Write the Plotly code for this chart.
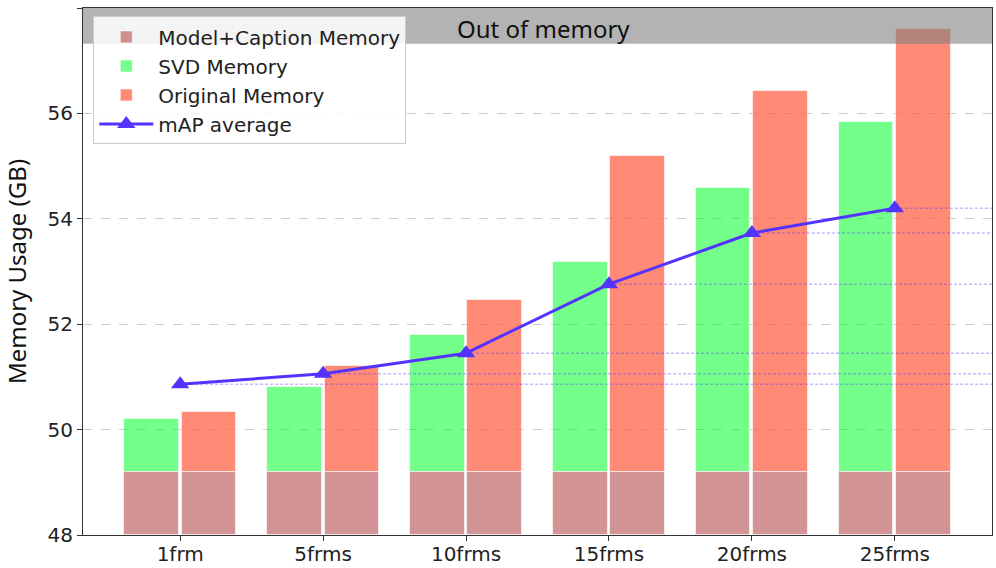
import plotly.graph_objects as go

# ---------------- data ----------------
frames = ["1frm", "5frms", "10frms", "15frms", "20frms", "25frms"]
model_caption_mem = [49.2, 49.2, 49.2, 49.2, 49.2, 49.2]
svd_mem = [50.21, 50.80, 51.80, 53.18, 54.58, 55.84]
original_mem = [50.33, 51.21, 52.45, 55.20, 56.43, 57.60]
map_average = [50.86, 51.06, 51.45, 52.76, 53.73, 54.20]
oom_limit = 57.32

# ---------------- style ----------------
tick_font = dict(family="DejaVu Sans", size=20, color="#222222")
label_font = dict(family="Noto Sans", size=24, color="#111111")
green = "rgba(0,255,40,0.55)"
orange = "rgba(255,99,71,0.75)"
brown = "rgba(165,42,42,0.5)"
blue = "#5533ff"
edge = dict(color="rgba(255,255,255,0.6)", width=1)

bar_w = 0.38
off = 0.2
x_min, x_max = -0.68, 5.68
idx = list(range(len(frames)))

fig = go.Figure()

# SVD / original bars start on top of the model+caption part
fig.add_trace(go.Bar(
    x=[i - off for i in idx],
    y=[s - m for s, m in zip(svd_mem, model_caption_mem)],
    base=model_caption_mem,
    width=bar_w,
    marker=dict(color=green, line=edge),
    name="SVD Memory",
    legendrank=2,
))
fig.add_trace(go.Bar(
    x=[i + off for i in idx],
    y=[o - m for o, m in zip(original_mem, model_caption_mem)],
    base=model_caption_mem,
    width=bar_w,
    marker=dict(color=orange, line=edge),
    name="Original Memory",
    legendrank=3,
))

# model + caption part under both bars
for k, sign in enumerate([-1, 1]):
    fig.add_trace(go.Bar(
        x=[i + sign * off for i in idx],
        y=[m - 48 for m in model_caption_mem],
        base=[48] * len(idx),
        width=bar_w,
        marker=dict(color=brown, line=edge),
        name="Model+Caption Memory",
        legendgroup="mc",
        showlegend=(k == 0),
        legendrank=1,
    ))

# dotted guides from every mAP point to the right edge
for i, v in zip(idx, map_average):
    fig.add_trace(go.Scatter(
        x=[i, x_max], y=[v, v],
        mode="lines",
        line=dict(color="rgba(85,51,255,0.35)", width=1.5, dash="3px,2px"),
        showlegend=False, hoverinfo="skip",
    ))

fig.add_trace(go.Scatter(
    x=idx, y=map_average,
    mode="lines+markers",
    line=dict(color=blue, width=3),
    marker=dict(symbol="triangle-up", size=16, color=blue),
    name="mAP average",
    legendrank=4,
))

# out-of-memory band
fig.add_shape(
    type="rect", xref="paper", yref="y",
    x0=0, x1=1, y0=oom_limit, y1=58,
    fillcolor="rgba(128,128,128,0.6)", line=dict(width=0),
    layer="above",
)
fig.add_annotation(
    x=2.54, y=(oom_limit + 58) / 2, xref="x", yref="y",
    text="Out of memory", showarrow=False,
    font=label_font, yanchor="middle", yshift=-3,
)

fig.update_layout(
    width=996, height=568,
    margin=dict(l=83, r=4, t=8, b=33, autoexpand=False),
    plot_bgcolor="white", paper_bgcolor="white",
    barmode="overlay",
    bargap=0,
    legend=dict(
        x=0.0113, y=0.984, xanchor="left", yanchor="top",
        bgcolor="rgba(255,255,255,0.85)",
        bordercolor="#cccccc", borderwidth=1,
        font=tick_font,
        traceorder="normal",
        itemwidth=54,
    ),
)
fig.update_xaxes(
    range=[x_min, x_max],
    tickvals=idx, ticktext=frames,
    tickfont=tick_font,
    ticks="outside", ticklen=5, tickcolor="#333333",
    ticklabelstandoff=-4,
    showline=True, linecolor="#333333", linewidth=1, mirror=True,
    showgrid=False, zeroline=False, automargin=False,
)
fig.update_yaxes(
    range=[48, 58], dtick=2,
    tickfont=tick_font,
    ticks="outside", ticklen=5, tickcolor="#333333",
    showline=True, linecolor="#333333", linewidth=1, mirror=True,
    showgrid=True, gridcolor="#cccccc", griddash="dash", gridwidth=1,
    zeroline=False, automargin=False,
    title=dict(text="Memory Usage (GB)", font=label_font, standoff=21),
)

# page body has a default 8px margin; drop it so the figure fills the window
fig.write_html(
    "out.html",
    config={"displayModeBar": False},
    post_script="document.body.style.margin='0';document.body.style.overflow='hidden';",
)
